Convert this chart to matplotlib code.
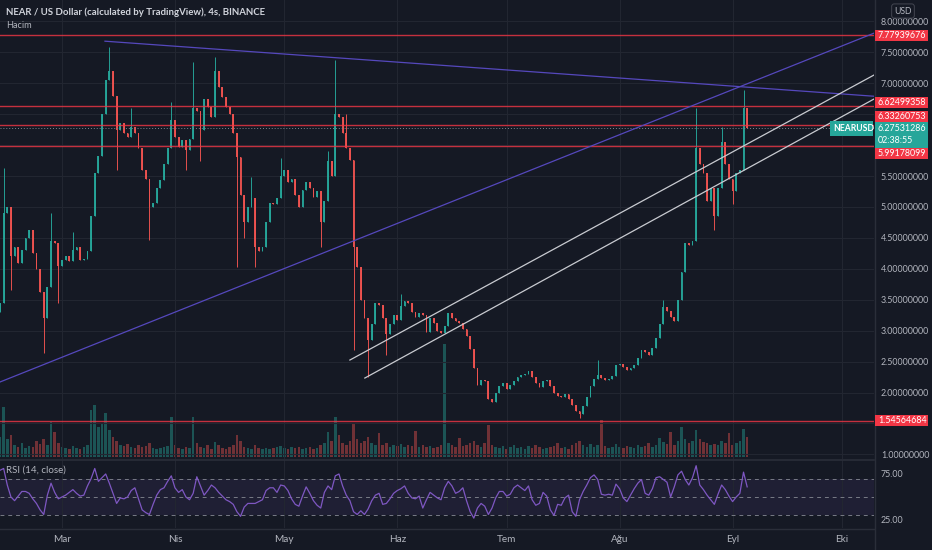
import numpy as np
import pandas as pd
import matplotlib
matplotlib.use("Agg")
import matplotlib.pyplot as plt
from matplotlib.lines import Line2D
from matplotlib.patches import Rectangle

plt.rcParams['font.family'] = ['Lato', 'DejaVu Sans']

# gunluk mumlar, 12 Subat 2021'den itibaren
start = pd.Timestamp("2021-02-12")
first_open = 3.3
closes = [
    3.45, 4.9, 5.0, 4.2, 4.35, 4.1, 4.3, 4.5, 4.62, 4.25,
    4.0, 3.62, 3.2, 3.7, 4.45, 4.42, 4.05, 4.15, 4.2, 4.12,
    4.3, 4.35, 4.14, 4.16, 4.28, 4.85, 5.55, 5.82, 6.5, 7.05,
    7.2, 6.8, 6.25, 6.36, 6.2, 6.13, 6.3, 6.2, 5.95, 5.6,
    5.45, 5.0, 5.06, 5.3, 5.44, 5.7, 5.95, 6.4, 6.13, 5.97,
    6.08, 5.92, 6.1, 6.6, 6.55, 6.25, 6.75, 6.62, 6.46, 7.2,
    6.94, 6.78, 6.62, 6.5, 6.2, 5.8, 5.2, 4.75, 5.0, 5.15,
    4.35, 4.28, 4.36, 4.75, 5.06, 5.05, 5.15, 5.5, 5.6, 5.4,
    5.45, 5.2, 5.0, 5.27, 5.4, 5.3, 5.16, 5.25, 4.75, 5.1,
    5.75, 5.5, 6.5, 6.45, 6.2, 5.95, 5.76, 4.36, 4.03, 3.5,
    3.2, 2.85, 3.1, 3.45, 3.42, 3.2, 2.95, 3.1, 3.25, 3.18,
    3.4, 3.48, 3.45, 3.3, 3.22, 3.28, 3.25, 2.98, 3.2, 3.12,
    3.0, 2.97, 3.08, 3.28, 3.2, 3.15, 3.12, 3.02, 2.92, 2.7,
    2.4, 2.12, 2.2, 2.18, 1.9, 1.85, 1.99, 2.1, 2.15, 2.05,
    2.12, 2.18, 2.25, 2.28, 2.3, 2.35, 2.25, 2.15, 2.09, 2.18,
    2.2, 2.1, 2.0, 1.95, 1.93, 1.98, 1.9, 1.8, 1.7, 1.65,
    1.78, 1.92, 2.1, 2.22, 2.28, 2.24, 2.2, 2.22, 2.26, 2.45,
    2.46, 2.42, 2.36, 2.4, 2.45, 2.55, 2.68, 2.65, 2.6, 2.72,
    2.88, 3.1, 3.38, 3.32, 3.22, 3.15, 3.5, 3.95, 4.42, 4.38,
    4.45, 5.95, 5.7, 5.55, 5.1, 5.3, 4.85, 5.3, 6.05, 5.7,
    5.45, 5.25, 5.55, 5.6, 6.6, 6.27531286,
]
high_wicks = {1: 5.63, 14: 4.9, 20: 4.6, 30: 7.59, 36: 6.6, 47: 6.7, 53: 7.34,
              59: 7.43, 69: 5.49, 77: 5.79, 90: 5.9, 92: 7.38, 95: 6.5, 110: 3.6,
              164: 2.52, 182: 3.5, 191: 6.6, 198: 6.3, 204: 6.89}
low_wicks = {3: 3.65, 12: 2.64, 16: 3.45, 32: 5.6, 41: 4.46, 51: 5.6, 55: 5.75,
             65: 4.03, 67: 4.5, 70: 4.03, 88: 4.36, 97: 2.68, 101: 2.25, 106: 2.6,
             159: 1.58, 196: 4.63, 201: 5.05}
volume = [
    20, 50, 18, 22, 12, 10, 14, 9, 11, 10,
    16, 13, 18, 12, 35, 25, 14, 10, 9, 8,
    11, 9, 8, 10, 12, 47, 52, 30, 34, 44,
    27, 20, 16, 12, 11, 13, 10, 9, 12, 10,
    11, 14, 9, 8, 9, 10, 11, 40, 12, 9,
    8, 10, 9, 40, 14, 10, 9, 12, 8, 15,
    12, 9, 8, 10, 12, 22, 16, 10, 9, 8,
    12, 9, 8, 9, 8, 9, 10, 11, 9, 8,
    10, 9, 10, 8, 9, 10, 8, 9, 12, 14,
    25, 16, 40, 22, 14, 12, 16, 34, 18, 14,
    16, 20, 14, 12, 24, 12, 14, 10, 12, 11,
    13, 10, 12, 11, 26, 10, 12, 10, 11, 9,
    10, 12, 114, 14, 12, 10, 19, 11, 12, 14,
    16, 12, 10, 14, 32, 12, 10, 9, 11, 8,
    10, 12, 9, 10, 8, 11, 9, 12, 10, 8,
    9, 10, 11, 14, 9, 10, 8, 12, 14, 16,
    12, 10, 13, 10, 12, 37, 11, 9, 10, 13,
    10, 9, 11, 10, 9, 12, 10, 11, 14, 10,
    12, 19, 15, 13, 25, 12, 16, 30, 18, 14,
    16, 27, 18, 15, 14, 12, 13, 12, 16, 14,
    24, 12, 14, 16, 28, 20,
]
rsi = [
    79, 81, 63, 50, 46, 51, 56, 56, 54, 48,
    43, 36, 31, 52, 65, 55, 48, 50, 52, 55,
    58, 54, 51, 52, 62, 70, 81, 67, 71, 75,
    65, 54, 43, 49, 48, 50, 57, 60, 48, 36,
    33, 31, 42, 52, 58, 60, 67, 73, 60, 55,
    58, 50, 47, 54, 72, 62, 52, 57, 63, 60,
    55, 51, 47, 45, 42, 34, 29, 39, 43, 43,
    43, 45, 47, 57, 60, 60, 55, 63, 62, 57,
    48, 42, 40, 51, 61, 54, 46, 41, 38, 55,
    62, 58, 73, 75, 62, 52, 46, 34, 31, 35,
    31, 37, 46, 52, 54, 42, 43, 48, 54, 57,
    59, 62, 54, 49, 48, 51, 38, 47, 55, 52,
    49, 47, 60, 67, 62, 54, 56, 60, 46, 34,
    27, 38, 43, 40, 31, 38, 49, 56, 56, 51,
    53, 60, 63, 60, 57, 62, 47, 41, 43, 55,
    51, 36, 30, 42, 41, 49, 52, 34, 29, 47,
    56, 63, 71, 74, 69, 53, 52, 53, 52, 64,
    59, 49, 45, 52, 59, 65, 69, 54, 52, 59,
    71, 72, 69, 66, 50, 61, 74, 78, 69, 63,
    71, 84, 63, 58, 52, 47, 42, 53, 63, 58,
    51, 45, 50, 54, 77, 61,
]

levels = [7.77939676, 6.62499358, 6.33260753, 5.99178099, 1.54564684]
last_price = 6.27531286
month_names = ["Mar", "Nis", "May", "Haz", "Tem", "Ağu", "Eyl", "Eki"]
month_starts = ["2021-03-01", "2021-04-01", "2021-05-01", "2021-06-01",
                "2021-07-01", "2021-08-01", "2021-09-01", "2021-10-01"]
price_ticks = np.arange(1.0, 8.01, 0.5)

# cizimler: (gun, fiyat) uclari
purple_lines = [((28.8, 7.68), (239.8, 6.79)), ((0.0, 2.17), (239.8, 7.81))]
white_lines = [((96.0, 2.525), (239.8, 7.133)), ((100.1, 2.234), (239.8, 6.745))]

bg = '#151924'
grid_c = '#222631'
text_c = '#b2b5be'
up_c = '#26a69a'
down_c = '#ef5350'
red_c = '#f23645'

closes = np.array(closes)
days = np.arange(len(closes))
opens = np.r_[first_open, closes[:-1]]
highs = np.maximum(opens, closes)
lows = np.minimum(opens, closes)
for d, v in high_wicks.items():
    highs[d] = v
for d, v in low_wicks.items():
    lows[d] = v
cols = np.where(closes >= opens, up_c, down_c)
month_days = [(pd.Timestamp(m) - start).days for m in month_starts]

W, H = 932, 550
fig = plt.figure(figsize=(W / 100, H / 100), dpi=100, facecolor=bg)
rect_main = [0, (H - 459) / H, 874 / W, 459 / H]
rect_rsi = [0, (H - 528) / H, 874 / W, 68 / H]

axv = fig.add_axes(rect_main, facecolor=bg, zorder=0)
ax = fig.add_axes(rect_main, zorder=1)
ax.patch.set_visible(False)
axr = fig.add_axes(rect_rsi, facecolor=bg, zorder=1)

xmax = 239.8
# hacim
axv.bar(days, volume, width=0.7, color=cols, alpha=0.42, linewidth=0)
axv.set_xlim(0, xmax)
axv.set_ylim(-2, 459)
axv.set_xticks(month_days)
axv.grid(axis='x', color=grid_c, lw=0.8)
axv.set_yticks([])
axv.tick_params(axis='x', length=0, labelbottom=False)
for s in axv.spines.values():
    s.set_visible(False)

# mumlar
ax.vlines(days, lows, highs, colors=cols, lw=0.7, zorder=3, alpha=0.95)
ax.bar(days, np.abs(closes - opens), bottom=np.minimum(opens, closes),
       width=0.5, color=cols, linewidth=0, zorder=3, alpha=0.95)

for lv in levels:
    ax.axhline(lv, color=red_c, lw=1.0, alpha=0.8, zorder=4)
ax.axhline(last_price, color='#7f8590', lw=0.7, ls=(0, (1, 2)), zorder=4)
for (x0, y0), (x1, y1) in purple_lines:
    ax.plot([x0, x1], [y0, y1], color='#5548bd', lw=0.9, zorder=5)
for (x0, y0), (x1, y1) in white_lines:
    ax.plot([x0, x1], [y0, y1], color='#c9cbd1', lw=0.9, zorder=5)

ax.set_xlim(0, xmax)
ax.set_ylim(0.925, 8.346)
ax.yaxis.tick_right()
ax.set_yticks(price_ticks)
hidden = {1.5, 6.0, 6.5}
ax.set_yticklabels(['' if t in hidden else f'{t:.8f}' for t in price_ticks])
ax.tick_params(axis='y', length=0, pad=5, labelsize=6.4, labelcolor=text_c)
ax.set_xticks(month_days)
ax.tick_params(axis='x', length=0, labelbottom=False)
ax.grid(axis='y', color=grid_c, lw=0.8, zorder=0)
for s in ax.spines.values():
    s.set_visible(False)

# RSI paneli
axr.axhspan(30, 70, color='#7e57c2', alpha=0.1, lw=0)
for lv in (70, 50, 30):
    axr.axhline(lv, color='#787b86', lw=0.7, ls=(0, (4, 4)))
axr.plot(days, rsi, color='#7e57c2', lw=0.9)
axr.set_xlim(0, xmax)
axr.set_ylim(16.3, 90.2)
axr.yaxis.tick_right()
axr.set_yticks([75, 25])
axr.set_yticklabels(['75.00', '25.00'])
axr.tick_params(axis='y', length=0, pad=5, labelsize=6.4, labelcolor=text_c)
axr.set_xticks(month_days)
axr.set_xticklabels(month_names)
axr.tick_params(axis='x', length=0, pad=5, labelsize=7.2, labelcolor=text_c)
axr.grid(axis='x', color=grid_c, lw=0.8)
for s in axr.spines.values():
    s.set_visible(False)

# ayirici cizgiler
sep = '#2a2e39'
fig.add_artist(Line2D([0, 874 / W], [(H - 459.5) / H] * 2, color=sep, lw=1.2))
fig.add_artist(Line2D([0, 874 / W], [(H - 528.5) / H] * 2, color=sep, lw=1.0))
fig.add_artist(Line2D([874.5 / W] * 2, [0, 1], color=sep, lw=1.0))


def price_px(v):
    # fiyatin figur icindeki piksel yuksekligi (alttan)
    return ax.transData.transform((0, v))[1]


def axis_box(y_center, h, text, color, x0=875, w=53, fs=6.4, weight='normal'):
    fig.add_artist(Rectangle((x0 / W, (y_center - h / 2) / H), w / W, h / H,
                             transform=fig.transFigure, fc=color, ec='none', zorder=10))
    fig.text((x0 + 3) / W, y_center / H, text, ha='left', va='center', fontsize=fs,
             color='white', fontweight=weight, zorder=11, linespacing=1.4)


# fiyat etiketleri (ustuste binmesin diye kaydirilmis)
label_shift = [0, 4, 8.5, -7.5, 0]
for lv, dy in zip(levels, label_shift):
    axis_box(price_px(lv) + dy, 11, f'{lv:.8f}', red_c)
axis_box(price_px(last_price) - 6.5, 26, f'{last_price:.8f}\n02:38:55', up_c)
axis_box(price_px(last_price) - 0.5, 15, 'NEARUSD', up_c, x0=830, w=43, fs=6.2,
         weight='bold')

fig.text(903 / W, 1 - 11 / H, 'USD', ha='center', va='center', fontsize=6.2,
         color=text_c, bbox=dict(boxstyle='round,pad=0.3', fc=bg, ec='#434651', lw=0.7))
fig.text(6 / W, 1 - 12 / H, 'NEAR / US Dollar (calculated by TradingView), 4s, BINANCE',
         ha='left', va='center', fontsize=6.9, color='#d1d4dc', fontweight='bold')
fig.text(6 / W, 1 - 26 / H, 'Hacim', ha='left', va='center', fontsize=6.6, color=text_c)
fig.text(6 / W, 1 - 470 / H, 'RSI (14, close)', ha='left', va='center', fontsize=7.0,
         color=text_c)

fig.savefig('out.png', dpi=100, facecolor=bg)
